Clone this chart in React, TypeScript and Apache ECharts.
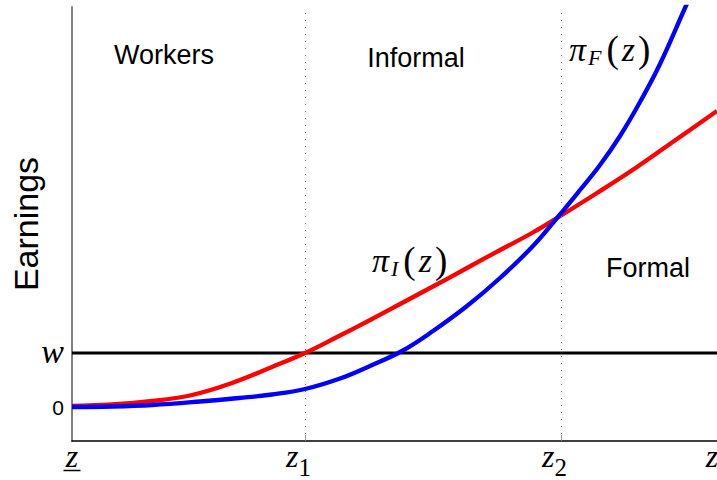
import React, { useEffect, useRef } from "react";
import * as echarts from "echarts";

// x in arbitrary productivity units, y in arbitrary earnings units
const zTicks = [0, 23.3, 48.9, 64.0];
const zTickNames = ["zlow", "z1", "z2", "zhigh"];
const wLevel = 5.4;
const yTicks = [0, wLevel];

const informalX = [0, 4, 8, 12, 16, 20, 23.3, 26.5, 30, 33, 36, 39.5, 43, 46, 48.5, 52.5, 56.5, 60.5, 64.5];
const informalY = [0.1, 0.25, 0.6, 1.2, 2.4, 4.0, 5.4, 7.0, 8.8, 10.4, 12.0, 13.9, 15.8, 17.4, 18.9, 21.4, 24.0, 26.8, 29.6];

const formalX = [0, 4, 8, 12.8, 16.7, 20, 23.3, 26.8, 29.8, 33, 36.1, 39.5, 42.8, 46.1, 48.5, 50.8, 52.8, 54.8, 56.8, 58.8, 61.3, 62.8];
const formalY = [0, 0.05, 0.2, 0.55, 0.9, 1.25, 1.8, 2.85, 4.1, 5.6, 7.6, 10.1, 12.9, 16.1, 18.9, 21.7, 24.2, 27.1, 30.5, 34.3, 39.9, 43.2];

const wX = [0, 64.5];

const regionLabels = ["Workers", "Informal", "Formal"];

const TSERIF = "'Liberation Serif', 'DejaVu Serif', serif";
const SANS = "'Liberation Sans', Arial, Helvetica, sans-serif";

const mathRich = {
  pi: { fontFamily: TSERIF, fontStyle: "italic", fontSize: 34, color: "#000", padding: [0, 1, 0, 0] },
  sub: { fontFamily: TSERIF, fontStyle: "italic", fontSize: 22, color: "#000", padding: [16, 5, 0, 1] },
  par: { fontFamily: TSERIF, fontSize: 37, color: "#000" },
  zi: { fontFamily: TSERIF, fontStyle: "italic", fontSize: 34, color: "#000", padding: [0, 3, 0, 3] },
};

export default function App() {
  const ref = useRef<HTMLDivElement>(null);
  useEffect(() => {
    document.body.style.margin = "0";
    if (!ref.current) return;
    const chart = echarts.init(ref.current, undefined, { renderer: "svg" });
    const xFormatter = (v: number) => {
      const i = zTicks.indexOf(v);
      const name = zTickNames[i];
      if (name === "zlow") return "{zl|z}\n{u| }";
      if (name === "z1") return "{z|z}{s|1}{pad| }";
      if (name === "z2") return "{z|z}{s|2}{pad| }";
      if (name === "zhigh") return "{z|z}";
      return "";
    };
    const yFormatter = (v: number) => (v === 0 ? "{n|0}" : v === wLevel ? "{w|w}" : "");
    const option = {
      animation: false,
      grid: { left: 72, right: 0, top: 7, bottom: 39, outerBoundsMode: "none" },
      xAxis: {
        type: "value",
        min: 0,
        max: 64.5,
        axisLine: { show: true, onZero: false, lineStyle: { color: "#000", width: 1.5 } },
        axisTick: { show: true, inside: true, length: 6, customValues: [zTicks[1], zTicks[2]], lineStyle: { color: "#999", width: 1 } },
        splitLine: { show: false },
        axisLabel: {
          customValues: zTicks,
          formatter: xFormatter,
          margin: 1,
          hideOverlap: false,
          showMinLabel: true,
          showMaxLabel: true,
          rich: {
            z: { fontFamily: TSERIF, fontStyle: "italic", fontSize: 32, color: "#000", lineHeight: 28 },
            zl: { fontFamily: TSERIF, fontStyle: "italic", fontSize: 32, color: "#000", lineHeight: 27 },
            s: { fontFamily: TSERIF, fontSize: 25, color: "#000", lineHeight: 15, padding: [23, 0, 0, 0] },
            pad: { width: 13 },
            u: { width: 17, height: 1.5, backgroundColor: "#000", lineHeight: 3 },
          },
        },
      },
      yAxis: {
        type: "value",
        min: -3.4,
        max: 40,
        axisLine: { show: true, onZero: false, lineStyle: { color: "#808080", width: 2 } },
        axisTick: { show: false },
        splitLine: { show: false },
        axisLabel: {
          customValues: yTicks,
          formatter: yFormatter,
          margin: 8,
          rich: {
            n: { fontFamily: SANS, fontSize: 21, color: "#000" },
            w: { fontFamily: TSERIF, fontStyle: "italic", fontSize: 34, color: "#000", padding: [0, 0, 4, 0] },
          },
        },
        name: "Earnings",
        nameLocation: "middle",
        nameRotate: 90,
        nameGap: 29,
        nameMoveOverlap: false,
        nameTextStyle: { fontFamily: SANS, fontSize: 34, color: "#000", lineHeight: 34 },
      },
      series: [
        {
          type: "line",
          data: wX.map((x) => [x, wLevel]),
          symbol: "none",
          lineStyle: { color: "#000", width: 3 },
          markLine: {
            silent: true,
            symbol: "none",
            label: { show: false },
            lineStyle: { color: "#777", width: 1, type: [1, 6] },
            data: [{ xAxis: zTicks[1] }, { xAxis: zTicks[2] }],
          },
          z: 1,
        },
        {
          type: "line",
          data: informalX.map((x, i) => [x, informalY[i]]),
          symbol: "none",
          smooth: 0.4,
          lineStyle: { color: "#ff0000", width: 4.3 },
          z: 2,
        },
        {
          type: "line",
          data: formalX.map((x, i) => [x, formalY[i]]),
          symbol: "none",
          smooth: 0.4,
          lineStyle: { color: "#0000ff", width: 4.3 },
          z: 3,
        },
      ],
      graphic: [
        { type: "text", x: 164, y: 55, style: { text: regionLabels[0], fill: "#000", font: `27px ${SANS}`, textAlign: "center", textVerticalAlign: "middle", align: "center", verticalAlign: "middle" } },
        { type: "text", x: 416, y: 58, style: { text: regionLabels[1], fill: "#000", font: `27px ${SANS}`, textAlign: "center", textVerticalAlign: "middle", align: "center", verticalAlign: "middle" } },
        { type: "text", x: 648, y: 268, style: { text: regionLabels[2], fill: "#000", font: `27px ${SANS}`, textAlign: "center", textVerticalAlign: "middle", align: "center", verticalAlign: "middle" } },
        { type: "text", x: 569, y: 49, style: { text: "{pi|π}{sub|F}{par|(}{zi|z}{par|)}", rich: mathRich, textAlign: "left", textVerticalAlign: "middle", align: "left", verticalAlign: "middle" } },
        { type: "text", x: 372, y: 260, style: { text: "{pi|π}{sub|I}{par|(}{zi|z}{par|)}", rich: mathRich, textAlign: "left", textVerticalAlign: "middle", align: "left", verticalAlign: "middle" } },
      ],
    };
    chart.setOption(option as any);
    return () => chart.dispose();
  }, []);
  return <div ref={ref} style={{ width: 717, height: 480 }} />;
}
